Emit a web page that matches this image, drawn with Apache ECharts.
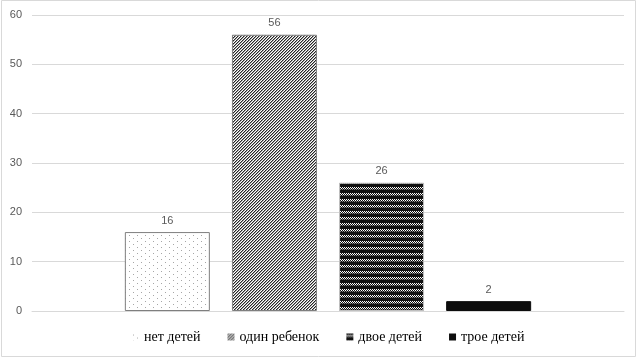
<!DOCTYPE html>
<html>
<head>
<meta charset="utf-8">
<script src="https://cdn.jsdelivr.net/npm/echarts@6/dist/echarts.min.js"></script>
<style>
  html, body { margin: 0; padding: 0; background: #fff; }
  #chart { width: 638px; height: 359px; }
</style>
</head>
<body>
<div id="chart"></div>
<script>
const seriesNames = ['нет детей', 'один ребенок', 'двое детей', 'трое детей']
const seriesValues = [16, 56, 26, 2]
const yTicks = { min: 0, max: 60, interval: 10 }

// small canvases used as fill patterns
function makePattern(w, h, draw) {
  const c = document.createElement('canvas')
  c.width = w
  c.height = h
  const ctx = c.getContext('2d')
  draw(ctx)
  return { image: c, repeat: 'repeat' }
}

const dots = makePattern(8, 6, ctx => {
  ctx.fillStyle = '#fff'
  ctx.fillRect(0, 0, 8, 6)
  ctx.fillStyle = '#a6a6a6'
  ctx.fillRect(1, 1, 1, 1)
  ctx.fillRect(5, 4, 1, 1)
})

const hatch = makePattern(3, 3, ctx => {
  ctx.fillStyle = '#fff'
  ctx.fillRect(0, 0, 3, 3)
  for (let x = 0; x < 3; x++) {
    for (let y = 0; y < 3; y++) {
      const k = (x + y) % 3
      if (k === 0) { ctx.fillStyle = '#262626'; ctx.fillRect(x, y, 1, 1) }
      if (k === 1) { ctx.fillStyle = '#a0a0a0'; ctx.fillRect(x, y, 1, 1) }
    }
  }
})

const checker = makePattern(4, 6, ctx => {
  ctx.fillStyle = '#111'
  ctx.fillRect(0, 0, 4, 6)
  ctx.fillStyle = '#fff'
  ctx.fillRect(0, 1, 1, 1)
  ctx.fillRect(2, 1, 1, 1)
  ctx.fillRect(1, 2, 1, 1)
  ctx.fillRect(3, 2, 1, 1)
  ctx.fillStyle = '#888'
  ctx.fillRect(0, 3, 1, 1)
  ctx.fillRect(2, 3, 1, 1)
})

const fills = [dots, hatch, checker, '#0d0d0d']
const borders = ['#7f7f7f', '#7f7f7f', '#bfbfbf', '#0d0d0d']

const chart = echarts.init(document.getElementById('chart'))

chart.setOption({
  animation: false,
  graphic: [{
    type: 'rect',
    shape: { x: 1.5, y: 0.5, width: 634, height: 356 },
    style: { fill: 'none', stroke: '#d9d9d9', lineWidth: 1 },
    silent: true
  }],
  grid: { left: 32, right: 14, top: 15, bottom: 48, containLabel: false },
  legend: {
    bottom: 10,
    left: 127,
    icon: 'rect',
    itemWidth: 7,
    itemHeight: 7,
    itemGap: 27,
    itemStyle: { borderWidth: 0 },
    textStyle: {
      fontFamily: '"Liberation Serif", "DejaVu Serif", serif',
      fontSize: 14,
      color: '#000'
    },
    data: seriesNames
  },
  xAxis: {
    type: 'category',
    data: [''],
    axisLine: { lineStyle: { color: '#d9d9d9' } },
    axisTick: { show: false },
    axisLabel: { show: false }
  },
  yAxis: {
    type: 'value',
    min: yTicks.min,
    max: yTicks.max,
    interval: yTicks.interval,
    axisLine: { show: false },
    axisTick: { show: false },
    axisLabel: { color: '#595959', fontFamily: 'Liberation Sans', fontSize: 11, margin: 10 },
    splitLine: { lineStyle: { color: '#d9d9d9' } }
  },
  series: seriesNames.map((name, i) => ({
    name,
    type: 'bar',
    data: [seriesValues[i]],
    barWidth: 85,
    barGap: '26%',
    itemStyle: { color: fills[i], borderColor: borders[i], borderWidth: 1 },
    label: {
      show: true,
      position: 'top',
      distance: 6,
      color: '#595959',
      fontFamily: 'Liberation Sans',
      fontSize: 11
    }
  }))
})
</script>
</body>
</html>
